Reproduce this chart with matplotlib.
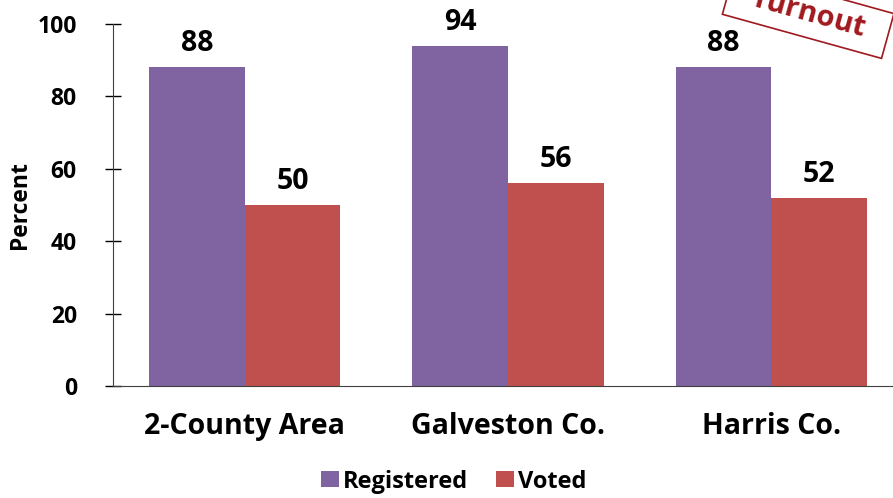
import matplotlib
matplotlib.use("Agg")
import matplotlib.pyplot as plt
import numpy as np

plt.rcParams['font.family'] = ['Open Sans', 'DejaVu Sans']
plt.rcParams['font.weight'] = 'bold'

categories = ['2-County Area', 'Galveston Co.', 'Harris Co.']
registered = [88, 94, 88]
voted = [50, 56, 52]
series_names = ['Registered', 'Voted']

purple = '#8064A2'
red = '#C0504D'

fig = plt.figure(figsize=(8.93, 4.98), dpi=100)
ax = fig.add_axes([0.1265, 0.2249, 0.8846, 0.7269])

pos = np.arange(len(categories))
width = 0.363
r1 = ax.bar(pos - width / 2, registered, width, color=purple, label=series_names[0])
r2 = ax.bar(pos + width / 2, voted, width, color=red, label=series_names[1])

for rects in (r1, r2):
    for rect in rects:
        h = rect.get_height()
        ax.annotate('%d' % h, (rect.get_x() + rect.get_width() / 2, h),
                    xytext=(0, 6.5), textcoords='offset points',
                    ha='center', va='bottom', fontsize=20.5, fontweight='bold')

ax.set_xlim(-0.5, 2.5)
ax.set_ylim(0, 100)
ax.set_yticks([0, 20, 40, 60, 80, 100])
ax.tick_params(axis='y', direction='inout', length=12, width=1, labelsize=16.5, pad=20)
ax.set_xticks(pos)
ax.set_xticklabels(categories, fontsize=20.5, fontweight='bold')
ax.tick_params(axis='x', length=0, pad=19)
for s in ['top', 'right']:
    ax.spines[s].set_visible(False)
ax.spines['left'].set_color('#404040')
ax.spines['bottom'].set_color('#404040')
ax.set_ylabel('Percent', fontsize=16.5, fontweight='bold', labelpad=4)

leg = fig.legend(loc='center', bbox_to_anchor=(0.508, 0.033), ncol=2, frameon=False,
                 fontsize=17, handlelength=0.76, handleheight=0.64, handletextpad=0.15,
                 columnspacing=1.2)

# partially visible stamp in the top right corner
fig.text(0.905, 0.972, '  Turnout  ', fontsize=21, fontweight='bold', color='#A0191E',
         rotation=-15.5, ha='center', va='center', rotation_mode='anchor',
         bbox=dict(boxstyle='square,pad=0.3', fc='white', ec='#A0191E', lw=1.2))

fig.savefig('out.png', dpi=100)
